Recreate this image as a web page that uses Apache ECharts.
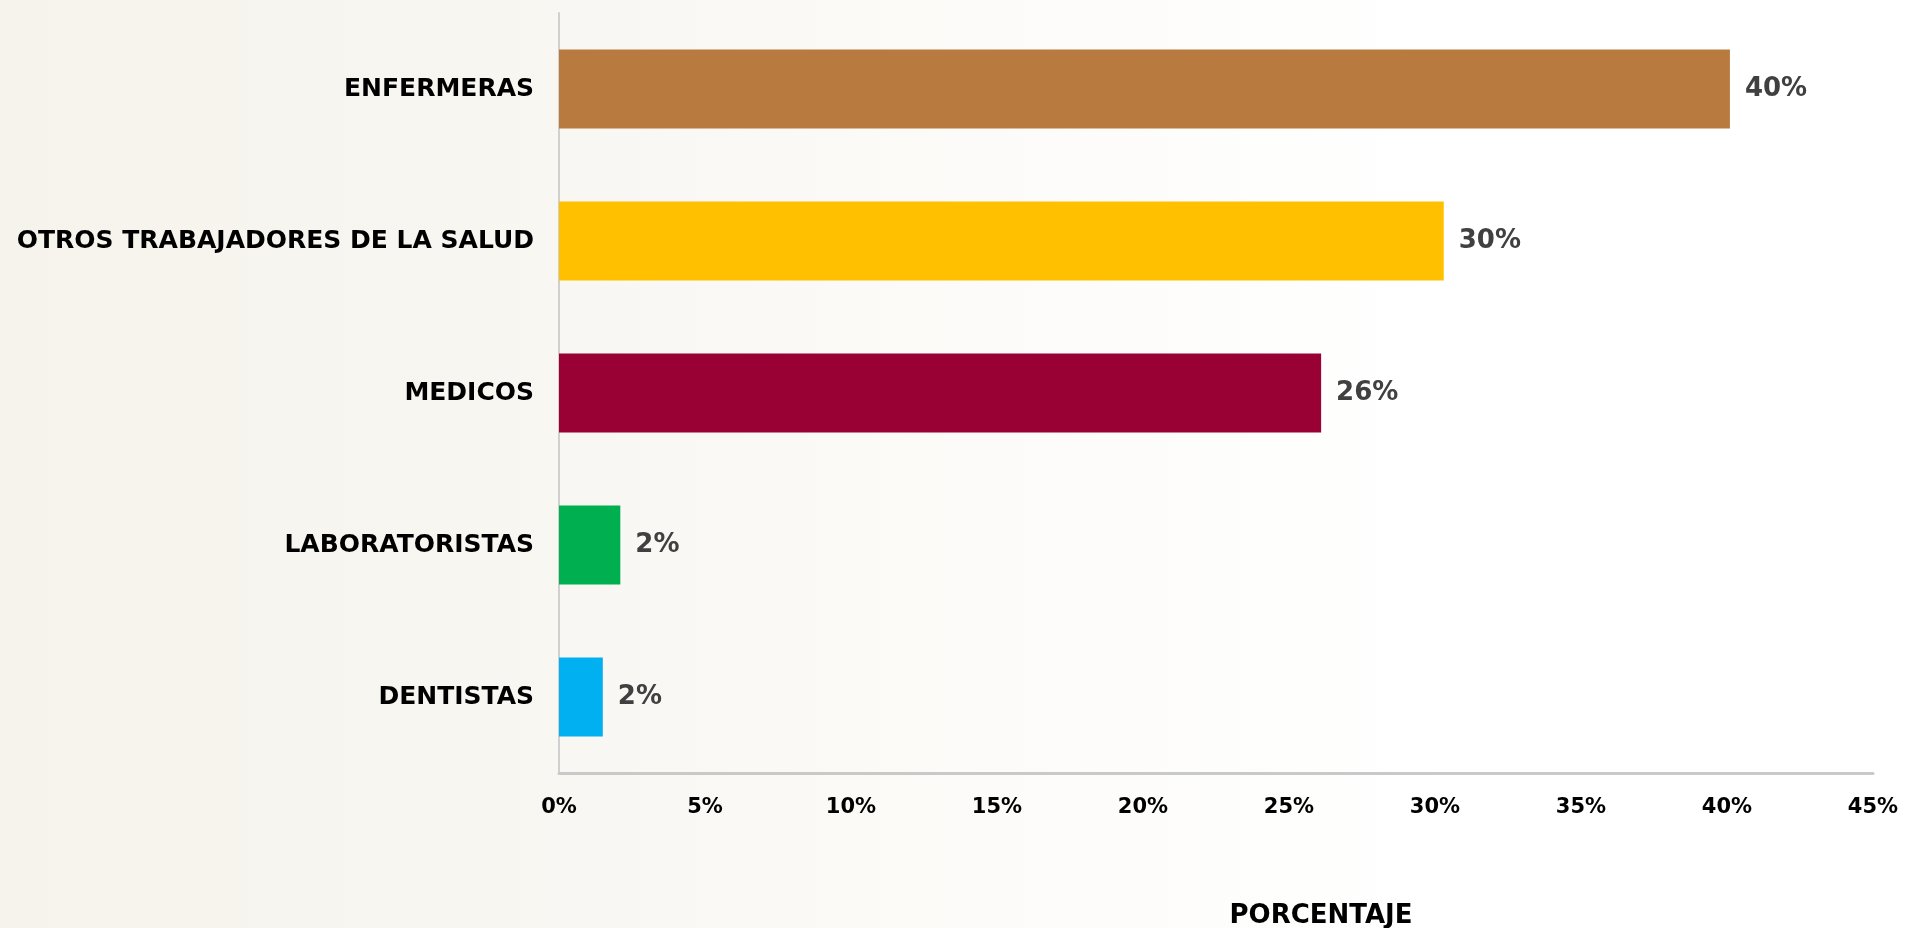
<!DOCTYPE html>
<html>
<head>
<meta charset="utf-8">
<script src="https://cdn.jsdelivr.net/npm/echarts@6/dist/echarts.min.js"></script>
<style>
html,body{margin:0;padding:0;background:#fff;}
#chart{width:1906px;height:928px;}
</style>
</head>
<body>
<div id="chart"></div>
<script>
const categories = ['ENFERMERAS', 'OTROS TRABAJADORES DE LA SALUD', 'MEDICOS', 'LABORATORISTAS', 'DENTISTAS'];
const values = [40.1, 30.3, 26.1, 2.1, 1.5];
const barColors = ['#b87a3f', '#ffc000', '#990033', '#00b050', '#00b0f0'];
const axisName = 'PORCENTAJE';

const FONT = "'DejaVu Sans', sans-serif";
const chart = echarts.init(document.getElementById('chart'));
chart.setOption({
  backgroundColor: {
    type: 'linear', x: 0, y: 0, x2: 1, y2: 0,
    colorStops: [
      {offset: 0, color: '#f6f3ec'},
      {offset: 0.25, color: '#f8f6f1'},
      {offset: 0.45, color: '#fbfaf7'},
      {offset: 0.75, color: '#ffffff'},
      {offset: 1, color: '#ffffff'}
    ]
  },
  animation: false,
  grid: {left: 559, right: 33, top: 13, bottom: 155, containLabel: false, outerBoundsMode: 'none'},
  xAxis: {
    type: 'value', min: 0, max: 45, interval: 5,
    axisLine: {show: true, lineStyle: {color: '#c9c9c9', width: 3}},
    axisTick: {show: false},
    splitLine: {show: false},
    axisLabel: {formatter: '{value}%', color: '#000', fontFamily: FONT, fontWeight: 'bold', fontSize: 21, margin: 24},
    name: axisName, nameLocation: 'middle', nameGap: 130,
    nameTextStyle: {color: '#000', fontFamily: FONT, fontWeight: 'bold', fontSize: 26, padding: [0, 0, 0, 210]}
  },
  yAxis: {
    type: 'category', data: categories, inverse: true,
    axisLine: {show: true, lineStyle: {color: '#d0d0d0', width: 2}},
    axisTick: {show: false},
    axisLabel: {color: '#000', fontFamily: FONT, fontWeight: 'bold', fontSize: 25, margin: 25}
  },
  series: [{
    type: 'bar',
    data: values.map((v, i) => ({value: v, itemStyle: {color: barColors[i]}})),
    barCategoryGap: '48%',
    label: {
      show: true, position: 'right', distance: 15,
      color: '#404040', fontFamily: FONT, fontWeight: 'bold', fontSize: 26,
      formatter: p => Math.round(p.value) + '%'
    }
  }]
});
</script>
</body>
</html>
